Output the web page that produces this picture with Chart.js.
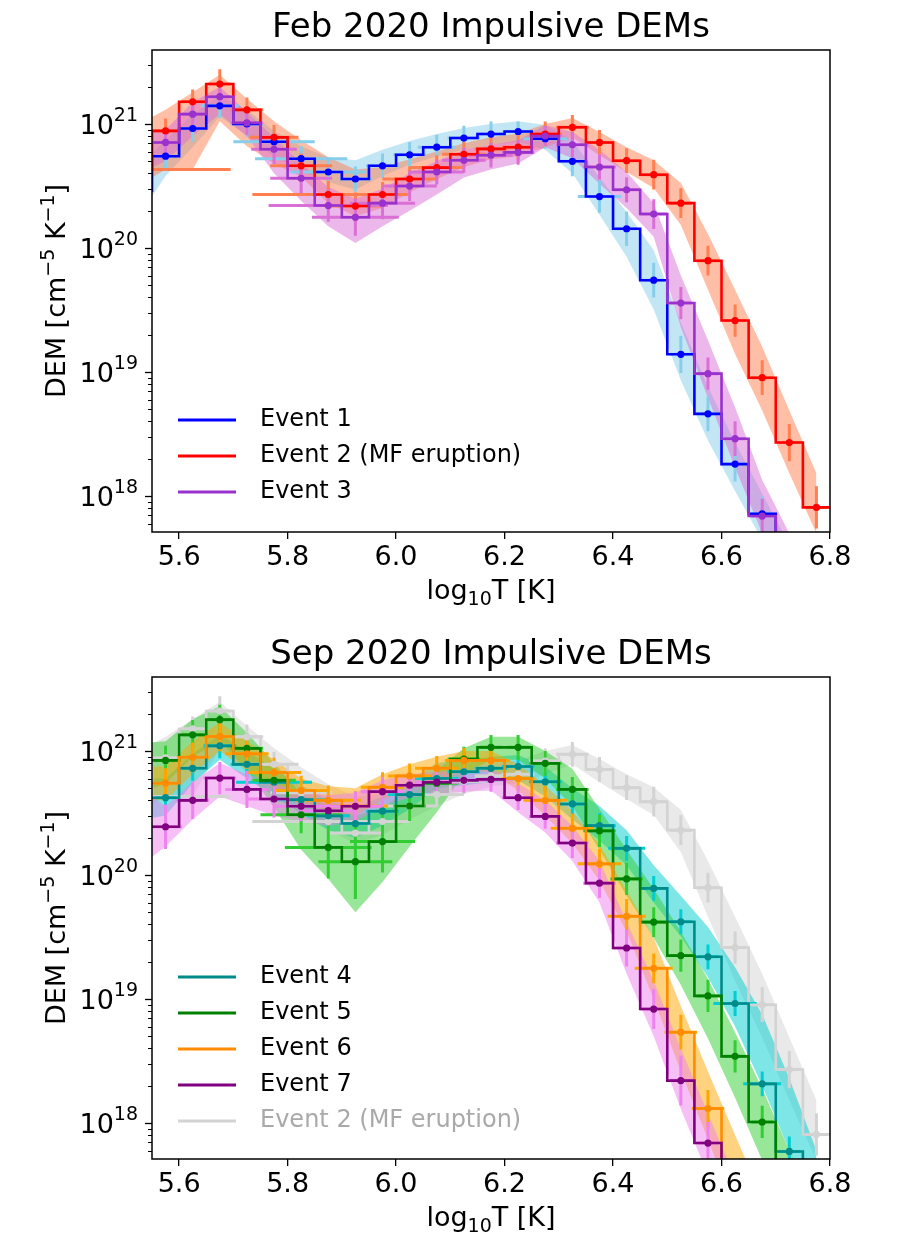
<!DOCTYPE html>
<html>
<head>
<meta charset="utf-8">
<script src="https://cdn.jsdelivr.net/npm/chart.js@4.4.1/dist/chart.umd.min.js"></script>
<style>
  body { margin: 0; background: #fff; width: 897px; height: 1250px; overflow: hidden; position: relative; }
  canvas { position: absolute; left: 0; }
</style>
</head>
<body>
<canvas id="febChart" width="897" height="627" style="top:0"></canvas>
<canvas id="sepChart" width="897" height="623" style="top:627px"></canvas>
<script>
// bin centres, log10 T
const logT = [5.525, 5.575, 5.625, 5.675, 5.725, 5.775, 5.825, 5.875, 5.925, 5.975,
              6.025, 6.075, 6.125, 6.175, 6.225, 6.275, 6.325, 6.375, 6.425, 6.475,
              6.525, 6.575, 6.625, 6.675, 6.725, 6.775];
const xTicks = [5.6, 5.8, 6.0, 6.2, 6.4, 6.6, 6.8];
const yPowers = [18, 19, 20, 21];

// Event 1
const ev1Dem = [2.9e20, 5.5e20, 9.2e20, 1.4e21, 1.0e21, 7.2e20, 5.25e20, 4.1e20, 3.6e20, 4.6e20, 5.65e20, 6.5e20, 7.7e20, 8.3e20, 8.7e20, 7.6e20, 5.0e20, 2.6e20, 1.43e20, 5.5e19, 1.39e19, 4.6e18, 1.81e18, 7.2e17, 3.0e17, 1.2e17];
const ev1Hi  = [4.6e20, 7.4e20, 1.2e21, 1.7e21, 1.3e21, 8.8e20, 6.6e20, 5.4e20, 5.1e20, 6.2e20, 7.3e20, 8.3e20, 9.3e20, 1.0e21, 1.05e21, 9.8e20, 7.4e20, 3.7e20, 1.95e20, 9.6e19, 2.5e19, 7.6e18, 2.7e18, 1.05e18, 4.0e17, 1.5e17];
const ev1Lo  = [1.8e20, 3.8e20, 6.5e20, 1.15e21, 8.0e20, 5.5e20, 4.2e20, 3.4e20, 2.95e20, 3.8e20, 4.7e20, 5.5e20, 6.2e20, 6.8e20, 7.2e20, 6.2e20, 4.0e20, 1.85e20, 8.5e19, 3.2e19, 8.6e18, 2.8e18, 1.1e18, 4.4e17, 1.6e17, 5e16];
const ev1ErrY = [0.1, 0.1, 0.11, 0.1, 0.1, 0.1, 0.1, 0.1, 0.1, 0.1, 0.1, 0.1, 0.1, 0.1, 0.08, 0.08, 0.12, 0.13, 0.14, 0.14, 0.15, 0.14, 0.14, 0.14, 0.14, 0.14];
const ev1ErrX = [0.02, 0.02, 0.02, 0.035, 0.03, 0.075, 0.085, 0.07, 0.03, 0.03, 0.03, 0.035, 0.03, 0.025, 0.025, 0.04, 0.025, 0.04, 0.02, 0.02, 0.02, 0.02, 0.02, 0.02, 0.02, 0.02];

// Event 2 (MF eruption)
const ev2Dem = [4.3e20, 8.8e20, 1.51e21, 2.1e21, 1.3e21, 7.8e20, 4.6e20, 2.7e20, 2.18e20, 2.7e20, 3.6e20, 4.45e20, 5.7e20, 6.3e20, 6.5e20, 8.3e20, 9.4e20, 7.1e20, 5.06e20, 3.9e20, 2.3e20, 7.9e19, 2.6e19, 9.0e18, 2.7e18, 8.1e17];
const ev2Hi  = [1.0e21, 1.3e21, 1.8e21, 2.5e21, 1.6e21, 1.05e21, 7.4e20, 5.4e20, 4.3e20, 4.5e20, 5.2e20, 6.0e20, 7.0e20, 7.8e20, 8.4e20, 1.0e21, 1.12e21, 8.6e20, 6.5e20, 5.1e20, 3.35e20, 1.3e20, 4.6e19, 1.6e19, 4.9e18, 1.53e18];
const ev2Lo  = [3.2e20, 4.3e20, 4.3e20, 1.05e21, 6.6e20, 4.8e20, 3.75e20, 2.3e20, 1.8e20, 2.1e20, 2.8e20, 3.6e20, 4.5e20, 5.2e20, 5.5e20, 6.5e20, 7.8e20, 5.6e20, 4.1e20, 3.05e20, 1.53e20, 4.6e19, 1.4e19, 4.9e18, 1.53e18, 5e17];
const ev2ErrY = [0.1, 0.1, 0.1, 0.12, 0.1, 0.1, 0.1, 0.11, 0.11, 0.1, 0.1, 0.1, 0.1, 0.1, 0.1, 0.1, 0.1, 0.1, 0.1, 0.12, 0.12, 0.12, 0.13, 0.14, 0.15, 0.17];
const ev2ErrX = [0.17, 0.02, 0.02, 0.02, 0.03, 0.045, 0.057, 0.14, 0.05, 0.05, 0.05, 0.05, 0.04, 0.03, 0.03, 0.03, 0.03, 0.025, 0.025, 0.025, 0.02, 0.02, 0.02, 0.02, 0.02, 0.02];

// Event 3
const ev3Dem = [7.1e20, 7.1e20, 1.2e21, 1.66e21, 1.02e21, 6.25e20, 3.65e20, 2.2e20, 1.77e20, 2.3e20, 3.16e20, 4.1e20, 5.1e20, 5.6e20, 5.9e20, 8.0e20, 6.8e20, 4.5e20, 2.95e20, 1.88e20, 3.6e19, 9.7e18, 2.9e18, 6.9e17, 2.0e17, 6e16];
const ev3Hi  = [8.5e20, 9.0e20, 1.5e21, 2.0e21, 1.25e21, 7.8e20, 4.8e20, 3.1e20, 2.5e20, 3.0e20, 4.0e20, 5.0e20, 6.2e20, 6.8e20, 7.4e20, 9.8e20, 8.6e20, 6.2e20, 4.1e20, 2.3e20, 6.0e19, 1.8e19, 5.2e18, 1.35e18, 5e17, 1.5e17];
const ev3Lo  = [4.0e20, 5.0e20, 8.0e20, 1.2e21, 8.0e20, 4.0e20, 2.4e20, 1.5e20, 1.1e20, 1.5e20, 2.0e20, 2.7e20, 3.7e20, 4.3e20, 4.8e20, 6.5e20, 5.3e20, 3.3e20, 2.1e20, 1.23e20, 2.3e19, 6.2e18, 1.7e18, 5e17, 1.5e17, 4e16];
const ev3ErrY = [0.1, 0.1, 0.1, 0.1, 0.1, 0.12, 0.12, 0.13, 0.15, 0.13, 0.12, 0.1, 0.1, 0.1, 0.1, 0.08, 0.1, 0.1, 0.1, 0.12, 0.13, 0.13, 0.14, 0.14, 0.14, 0.14];
const ev3ErrX = [0.02, 0.02, 0.02, 0.02, 0.03, 0.042, 0.057, 0.11, 0.08, 0.06, 0.05, 0.05, 0.04, 0.04, 0.03, 0.03, 0.03, 0.03, 0.025, 0.025, 0.02, 0.02, 0.02, 0.02, 0.02, 0.02];

// Event 4
const ev4Dem = [4.2e20, 4.2e20, 7.25e20, 1.1e21, 7.8e20, 5.6e20, 4.05e20, 3.0e20, 2.6e20, 3.27e20, 4.45e20, 6.0e20, 6.8e20, 7.25e20, 7.5e20, 5.65e20, 3.74e20, 2.5e20, 1.64e20, 7.8e19, 4.2e19, 2.19e19, 9.2e18, 2.07e18, 5.9e17, 1.5e17];
const ev4Hi  = [6.0e20, 6.0e20, 9.5e20, 1.35e21, 1.0e21, 7.2e20, 5.3e20, 4.0e20, 3.5e20, 4.3e20, 5.8e20, 8.0e20, 8.5e20, 9.0e20, 9.3e20, 7.5e20, 5.0e20, 3.6e20, 2.3e20, 1.2e20, 6.8e19, 3.8e19, 1.8e19, 7.5e18, 2.3e18, 6e17];
const ev4Lo  = [2.8e20, 3.0e20, 5.5e20, 8.5e20, 6.0e20, 4.3e20, 3.1e20, 2.3e20, 2.0e20, 2.5e20, 3.4e20, 5.0e20, 5.3e20, 5.6e20, 5.8e20, 4.3e20, 2.8e20, 1.9e20, 1.2e20, 6.0e19, 3.2e19, 1.5e19, 6.0e18, 2.0e18, 6.0e17, 1.5e17];
const ev4ErrY = [0.1, 0.1, 0.1, 0.1, 0.1, 0.1, 0.1, 0.1, 0.1, 0.1, 0.1, 0.1, 0.1, 0.08, 0.08, 0.08, 0.1, 0.1, 0.1, 0.1, 0.1, 0.1, 0.1, 0.1, 0.12, 0.12];
const ev4ErrX = [0.02, 0.02, 0.02, 0.03, 0.03, 0.07, 0.05, 0.04, 0.03, 0.03, 0.04, 0.04, 0.03, 0.03, 0.03, 0.03, 0.025, 0.03, 0.034, 0.025, 0.02, 0.02, 0.04, 0.035, 0.02, 0.02];

// Event 5
const ev5Dem = [8.4e20, 8.4e20, 1.35e21, 1.79e21, 1.05e21, 5.8e20, 3.06e20, 1.67e20, 1.28e20, 1.86e20, 3.6e20, 5.5e20, 8.6e20, 1.07e21, 1.07e21, 7.95e20, 4.9e20, 2.27e20, 9.3e19, 4.17e19, 2.24e19, 1.06e19, 3.45e18, 1.02e18, 3e17, 1e17];
const ev5Hi  = [1.15e21, 1.2e21, 1.8e21, 2.3e21, 1.4e21, 8.0e20, 4.5e20, 3.6e20, 3.0e20, 3.5e20, 5.0e20, 7.0e20, 1.05e21, 1.3e21, 1.3e21, 1.0e21, 7.2e20, 3.4e20, 1.6e20, 7.7e19, 3.5e19, 1.45e19, 5.4e18, 1.9e18, 6e17, 2e17];
const ev5Lo  = [4.5e20, 5.5e20, 9.0e20, 1.2e21, 7.0e20, 3.5e20, 1.6e20, 9.3e19, 5.0e19, 8.8e19, 1.7e20, 3.2e20, 6.5e20, 8.5e20, 8.5e20, 6.0e20, 3.6e20, 1.6e20, 6.8e19, 3.1e19, 1.3e19, 4.8e18, 1.6e18, 5e17, 1.5e17, 4e16];
const ev5ErrY = [0.12, 0.12, 0.12, 0.12, 0.12, 0.12, 0.15, 0.25, 0.3, 0.25, 0.12, 0.12, 0.1, 0.1, 0.1, 0.1, 0.1, 0.13, 0.13, 0.12, 0.13, 0.13, 0.13, 0.13, 0.13, 0.13];
const ev5ErrX = [0.02, 0.02, 0.02, 0.02, 0.03, 0.04, 0.075, 0.08, 0.068, 0.06, 0.03, 0.04, 0.03, 0.02, 0.02, 0.03, 0.03, 0.03, 0.03, 0.025, 0.02, 0.02, 0.02, 0.02, 0.02, 0.02];

// Event 6
const ev6Dem = [5.5e20, 5.5e20, 8.9e20, 1.31e21, 9.5e20, 6.7e20, 4.8e20, 4.0e20, 3.6e20, 5.1e20, 6.3e20, 7.25e20, 8.4e20, 8.4e20, 6.0e20, 4.0e20, 2.38e20, 1.23e20, 4.65e19, 1.77e19, 5.4e18, 1.31e18, 3.5e17, 1e17, 3e16, 1e16];
const ev6Hi  = [7.5e20, 7.5e20, 1.2e21, 1.7e21, 1.2e21, 8.5e20, 6.0e20, 5.2e20, 5.0e20, 6.5e20, 7.8e20, 9.0e20, 1.0e21, 1.0e21, 7.8e20, 5.3e20, 3.3e20, 1.75e20, 7.5e19, 3.1e19, 8.8e18, 2.6e18, 8e17, 2.5e17, 8e16, 3e16];
const ev6Lo  = [4.0e20, 4.0e20, 6.5e20, 1.0e21, 7.0e20, 5.0e20, 3.8e20, 3.2e20, 3.0e20, 4.0e20, 5.0e20, 5.8e20, 6.8e20, 6.8e20, 4.8e20, 3.0e20, 1.8e20, 9.0e19, 3.5e19, 1.0e19, 2.6e18, 7.4e17, 2e17, 5e16, 1.5e16, 5e15];
const ev6ErrY = [0.12, 0.12, 0.12, 0.12, 0.12, 0.12, 0.12, 0.12, 0.12, 0.12, 0.1, 0.1, 0.1, 0.1, 0.1, 0.12, 0.12, 0.12, 0.14, 0.12, 0.14, 0.15, 0.15, 0.15, 0.15, 0.15];
const ev6ErrX = [0.02, 0.02, 0.03, 0.03, 0.04, 0.05, 0.05, 0.06, 0.06, 0.04, 0.04, 0.04, 0.035, 0.035, 0.03, 0.04, 0.04, 0.04, 0.035, 0.035, 0.03, 0.03, 0.03, 0.03, 0.03, 0.03];

// Event 7
const ev7Dem = [2.45e20, 2.45e20, 4.0e20, 6.05e20, 4.9e20, 4.1e20, 3.58e20, 3.3e20, 3.58e20, 4.7e20, 5.3e20, 5.6e20, 5.8e20, 5.9e20, 4.2e20, 2.97e20, 1.81e20, 8.6e19, 2.58e19, 8.3e18, 2.2e18, 6.9e17, 2e17, 6e16, 2e16, 6e15];
const ev7Hi  = [5.0e20, 3.6e20, 5.6e20, 8.0e20, 6.5e20, 5.5e20, 4.7e20, 4.4e20, 4.6e20, 5.8e20, 6.5e20, 6.8e20, 7.0e20, 7.2e20, 5.5e20, 4.0e20, 2.5e20, 1.3e20, 4.2e19, 1.4e19, 4e18, 1.2e18, 3.6e17, 1.1e17, 3.5e16, 1e16];
const ev7Lo  = [1.15e20, 1.7e20, 2.8e20, 4.3e20, 3.6e20, 3.0e20, 2.7e20, 2.5e20, 2.7e20, 3.6e20, 4.2e20, 4.5e20, 4.7e20, 4.8e20, 3.2e20, 2.2e20, 1.3e20, 6.0e19, 1.6e19, 5e18, 1.3e18, 3.8e17, 1e17, 3e16, 1e16, 3e15];
const ev7ErrY = [0.18, 0.18, 0.15, 0.13, 0.15, 0.15, 0.12, 0.12, 0.12, 0.12, 0.1, 0.1, 0.1, 0.1, 0.1, 0.1, 0.12, 0.12, 0.15, 0.16, 0.2, 0.17, 0.17, 0.17, 0.17, 0.17];
const ev7ErrX = [0.02, 0.03, 0.03, 0.03, 0.04, 0.05, 0.05, 0.05, 0.05, 0.04, 0.03, 0.04, 0.04, 0.03, 0.03, 0.03, 0.03, 0.03, 0.025, 0.025, 0.02, 0.02, 0.02, 0.02, 0.02, 0.02];

const FONT = '"DejaVu Sans", sans-serif';

const febEvents = [
  { label: 'Event 1', dem: ev1Dem, hi: ev1Hi, lo: ev1Lo, errY: ev1ErrY, errX: ev1ErrX, line: '#0000ff', light: '135,206,235' },
  { label: 'Event 2 (MF eruption)', dem: ev2Dem, hi: ev2Hi, lo: ev2Lo, errY: ev2ErrY, errX: ev2ErrX, line: '#ff0000', light: '255,127,80' },
  { label: 'Event 3', dem: ev3Dem, hi: ev3Hi, lo: ev3Lo, errY: ev3ErrY, errX: ev3ErrX, line: '#9932cc', light: '218,112,214' }
];
// grey Event 2 goes underneath, but is listed last in the legend
const sepEvents = [
  { label: 'Event 2 (MF eruption)', dem: ev2Dem, hi: ev2Hi, lo: ev2Lo, errY: ev2ErrY, errX: ev2ErrX, line: '#d3d3d3', light: '211,211,211', text: '#a9a9a9' },
  { label: 'Event 4', dem: ev4Dem, hi: ev4Hi, lo: ev4Lo, errY: ev4ErrY, errX: ev4ErrX, line: '#008b8b', light: '0,206,209' },
  { label: 'Event 5', dem: ev5Dem, hi: ev5Hi, lo: ev5Lo, errY: ev5ErrY, errX: ev5ErrX, line: '#008000', light: '50,205,50' },
  { label: 'Event 6', dem: ev6Dem, hi: ev6Hi, lo: ev6Lo, errY: ev6ErrY, errX: ev6ErrX, line: '#ff8c00', light: '255,165,0' },
  { label: 'Event 7', dem: ev7Dem, hi: ev7Hi, lo: ev7Lo, errY: ev7ErrY, errX: ev7ErrX, line: '#800080', light: '238,130,238' }
];

function buildDatasets(events) {
  const half = (logT[1] - logT[0]) / 2;
  const sets = [];
  events.forEach((ev, e) => {
    // shaded band: lower edge, then upper edge filled down to it
    sets.push({ data: logT.map((x, i) => ({ x, y: ev.lo[i] })), borderWidth: 0, pointRadius: 0, fill: false, order: 400 - e });
    sets.push({ data: logT.map((x, i) => ({ x, y: ev.hi[i] })), borderWidth: 0, pointRadius: 0, fill: '-1',
                backgroundColor: `rgba(${ev.light},0.5)`, order: 400 - e });
    // error bars (drawn by plugin)
    sets.push({ data: logT.map((x, i) => ({ x, y: ev.dem[i] })), showLine: false, pointRadius: 0,
                errY: ev.errY, errX: ev.errX, errColor: `rgb(${ev.light})`, order: 300 - e });
    // histogram steps
    sets.push({ data: logT.flatMap((x, i) => [{ x: x - half, y: ev.dem[i] }, { x: x + half, y: ev.dem[i] }]),
                borderColor: ev.line, borderWidth: 2.6, pointRadius: 0, fill: false, order: 200 - e });
    // markers
    sets.push({ data: logT.map((x, i) => ({ x, y: ev.dem[i] })), showLine: false, pointRadius: 3.6,
                pointBackgroundColor: ev.line, pointBorderWidth: 0, order: 100 - e });
  });
  return sets;
}

const errorBars = {
  id: 'errorBars',
  afterDatasetDraw(chart, args) {
    const ds = chart.data.datasets[args.index];
    if (!ds.errY) return;
    const { ctx, chartArea: a, scales: { x, y } } = chart;
    ctx.save();
    ctx.beginPath();
    ctx.rect(a.left, a.top, a.right - a.left, a.bottom - a.top);
    ctx.clip();
    ctx.strokeStyle = ds.errColor;
    ctx.lineWidth = 3;
    ctx.beginPath();
    ds.data.forEach((pt, i) => {
      const px = x.getPixelForValue(pt.x), py = y.getPixelForValue(pt.y);
      const f = Math.pow(10, ds.errY[i]);
      ctx.moveTo(px, y.getPixelForValue(pt.y * f));
      ctx.lineTo(px, y.getPixelForValue(pt.y / f));
      ctx.moveTo(x.getPixelForValue(pt.x - ds.errX[i]), py);
      ctx.lineTo(x.getPixelForValue(pt.x + ds.errX[i]), py);
    });
    ctx.stroke();
    ctx.restore();
  }
};

function drawRich(ctx, parts, x, y) {
  parts.forEach(p => {
    ctx.font = `${p.size}px ${FONT}`;
    ctx.fillText(p.t, x, y + (p.dy || 0));
    x += ctx.measureText(p.t).width;
  });
}
function richWidth(ctx, parts) {
  return parts.reduce((w, p) => { ctx.font = `${p.size}px ${FONT}`; return w + ctx.measureText(p.t).width; }, 0);
}

const decor = {
  id: 'decor',
  afterDraw(chart, args, opts) {
    const { ctx, chartArea: a, scales: { y } } = chart;
    ctx.save();
    ctx.strokeStyle = '#000';
    ctx.fillStyle = '#000';
    ctx.lineWidth = 1.5;
    ctx.strokeRect(a.left, a.top, a.right - a.left, a.bottom - a.top);

    // log ticks on the left spine
    for (let p = 17; p <= 21; p++) {
      for (let k = 1; k <= 9; k++) {
        const v = k * Math.pow(10, p);
        if (v < y.min || v > y.max) continue;
        const py = Math.round(y.getPixelForValue(v)) + 0.5;
        const len = k === 1 ? 7 : 4;
        ctx.lineWidth = k === 1 ? 1.3 : 1;
        ctx.beginPath();
        ctx.moveTo(a.left - len, py);
        ctx.lineTo(a.left, py);
        ctx.stroke();
      }
    }
    ctx.textAlign = 'left';
    ctx.textBaseline = 'alphabetic';
    yPowers.forEach(p => {
      const py = y.getPixelForValue(Math.pow(10, p));
      const parts = [{ t: '10', size: 27, dy: 10 }, { t: String(p), size: 19, dy: -3 }];
      const w = richWidth(ctx, parts);
      drawRich(ctx, parts, a.left - 14 - w, py);
    });

    // title
    ctx.font = `34px ${FONT}`;
    ctx.textAlign = 'center';
    ctx.fillText(opts.title, (a.left + a.right) / 2, 37);

    // x label
    ctx.textAlign = 'left';
    const xl = [{ t: 'log', size: 27 }, { t: '10', size: 19, dy: 6 }, { t: 'T [K]', size: 27 }];
    drawRich(ctx, xl, (a.left + a.right) / 2 - richWidth(ctx, xl) / 2, 599);

    // y label
    const yl = [{ t: 'DEM [cm', size: 27 }, { t: '\u22125', size: 19, dy: -11 }, { t: ' K', size: 27 },
                { t: '\u22121', size: 19, dy: -11 }, { t: ']', size: 27 }];
    ctx.save();
    ctx.translate(65, (a.top + a.bottom) / 2);
    ctx.rotate(-Math.PI / 2);
    drawRich(ctx, yl, -richWidth(ctx, yl) / 2, 0);
    ctx.restore();

    // legend
    ctx.font = `24px ${FONT}`;
    ctx.textBaseline = 'middle';
    opts.legend.forEach((ev, i) => {
      const ly = opts.legendTop + i * 36;
      ctx.strokeStyle = ev.line;
      ctx.lineWidth = 3;
      ctx.beginPath();
      ctx.moveTo(178, ly);
      ctx.lineTo(236, ly);
      ctx.stroke();
      ctx.fillStyle = ev.text || '#000';
      ctx.fillText(ev.label, 260, ly);
    });
    ctx.restore();
  }
};

function makeChart(id, events, title, legendOrder, legendTop) {
  return new Chart(document.getElementById(id), {
    type: 'line',
    data: { datasets: buildDatasets(events) },
    plugins: [errorBars, decor],
    options: {
      responsive: false,
      animation: false,
      devicePixelRatio: 1,
      events: [],
      layout: { padding: { top: 50, right: 67, left: 0, bottom: 0 } },
      plugins: {
        legend: { display: false },
        tooltip: { enabled: false },
        decor: { title, legend: legendOrder, legendTop }
      },
      scales: {
        x: {
          type: 'linear', min: 5.55, max: 6.8,
          afterBuildTicks: axis => { axis.ticks = xTicks.map(v => ({ value: v })); },
          afterFit: s => { s.height = s.chart.height - 532; },
          ticks: { font: { family: FONT, size: 27 }, color: '#000', padding: 3, maxRotation: 0, autoSkip: false,
                   callback: v => v.toFixed(1) },
          grid: { drawOnChartArea: false, tickLength: 7, color: '#000', lineWidth: 1.3 },
          border: { display: false }
        },
        y: {
          type: 'logarithmic', min: 5.13e17, max: 3.95e21,
          afterFit: s => { s.width = 152; },
          ticks: { display: false },
          grid: { display: false },
          border: { display: false }
        }
      }
    }
  });
}

makeChart('febChart', febEvents, 'Feb 2020 Impulsive DEMs', febEvents, 420);
makeChart('sepChart', sepEvents, 'Sep 2020 Impulsive DEMs', [sepEvents[1], sepEvents[2], sepEvents[3], sepEvents[4], sepEvents[0]], 350);
</script>
</body>
</html>
